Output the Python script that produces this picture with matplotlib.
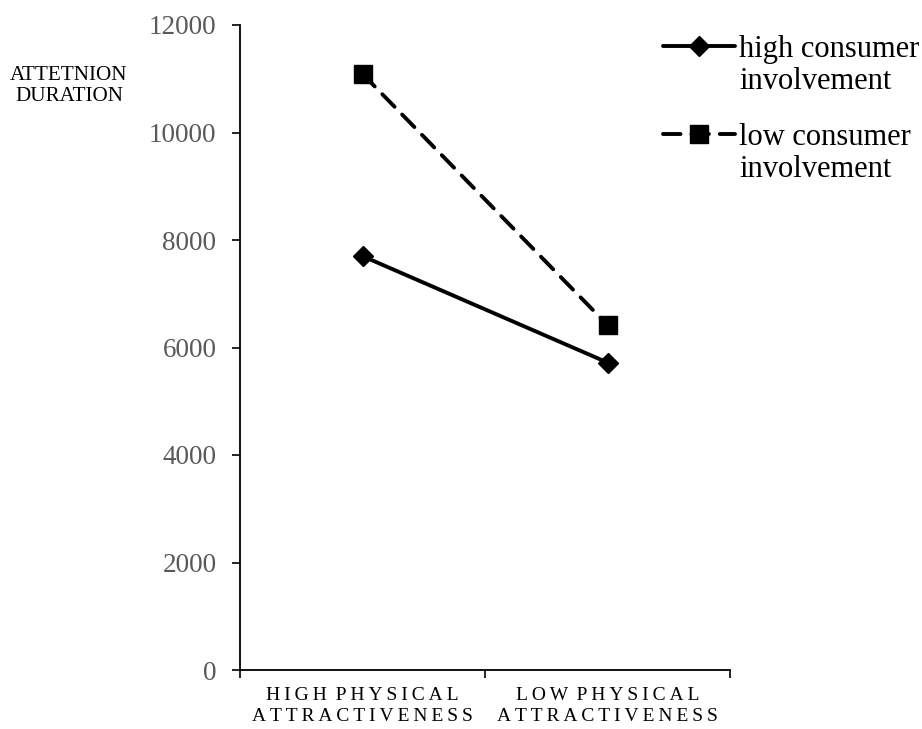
import numpy as np
import matplotlib.pyplot as plt
from matplotlib.lines import Line2D

# data
categories = ['HIGH PHYSICAL\nATTRACTIVENESS', 'LOW PHYSICAL\nATTRACTIVENESS']
high_involvement = [7700, 5720]
low_involvement = [11090, 6420]
yticks = [0, 2000, 4000, 6000, 8000, 10000, 12000]

plt.rcParams['font.family'] = ['Liberation Serif', 'DejaVu Serif']


def spaced(s):
    # the original labels are letter-spaced; fake it with thin spaces
    return '\n'.join(' \u2009'.join('\u2009'.join(w) for w in line.split(' '))
                     for line in s.split('\n'))


fig = plt.figure(figsize=(9.22, 7.29), dpi=100)
ax = fig.add_axes([240 / 922, 1 - 670 / 729, 490 / 922, 645 / 729])

x = np.arange(len(categories)) + 0.5
l1, = ax.plot(x, high_involvement, color='black', lw=2.8, marker='D', ms=10,
              solid_capstyle='round')
l2, = ax.plot(x, low_involvement, color='black', lw=2.8, ls=(0, (4.5, 2.8)),
              dash_capstyle='round', marker='s', ms=13)

ax.set_xlim(0, 2)
ax.set_ylim(0, 12000)
ax.set_yticks(yticks)
ax.set_xticks([0, 1, 2])
ax.set_xticklabels([])
ax.set_xticks(x, minor=True)
ax.set_xticklabels([spaced(c) for c in categories], minor=True, fontsize=14)
ax.tick_params(axis='x', which='minor', length=0, pad=12)
ax.tick_params(axis='x', which='major', length=6, width=1.2)
ax.tick_params(axis='y', length=6, width=1.2, labelsize=19.5, labelcolor='#595959', pad=11)
for lbl in ax.get_xticklabels(minor=True):
    lbl.set_linespacing(1.3)

for side in ['top', 'right']:
    ax.spines[side].set_visible(False)
ax.spines['left'].set_linewidth(1.3)
ax.spines['bottom'].set_linewidth(1.3)

fig.text(69 / 922, 1 - 86 / 729, 'ATTETNION\nDURATION', ha='center', va='center',
         fontsize=15.2, linespacing=1.13)

# legend: second line of each label gets a blank handle so the line sits on the first line
blank = Line2D([], [], color='none')
leg = ax.legend([l1, blank, l2, blank],
                ['high consumer', 'involvement\n', 'low consumer', 'involvement'],
                loc='upper left', bbox_to_anchor=(663 / 922, 1 - 35 / 729),
                bbox_transform=fig.transFigure, frameon=False, fontsize=22,
                handlelength=2.35, handletextpad=0.15, labelspacing=0.1, borderpad=0,
                borderaxespad=0)
leg.get_texts()[1].set_linespacing(0.75)

fig.savefig('out.png', dpi=100)
